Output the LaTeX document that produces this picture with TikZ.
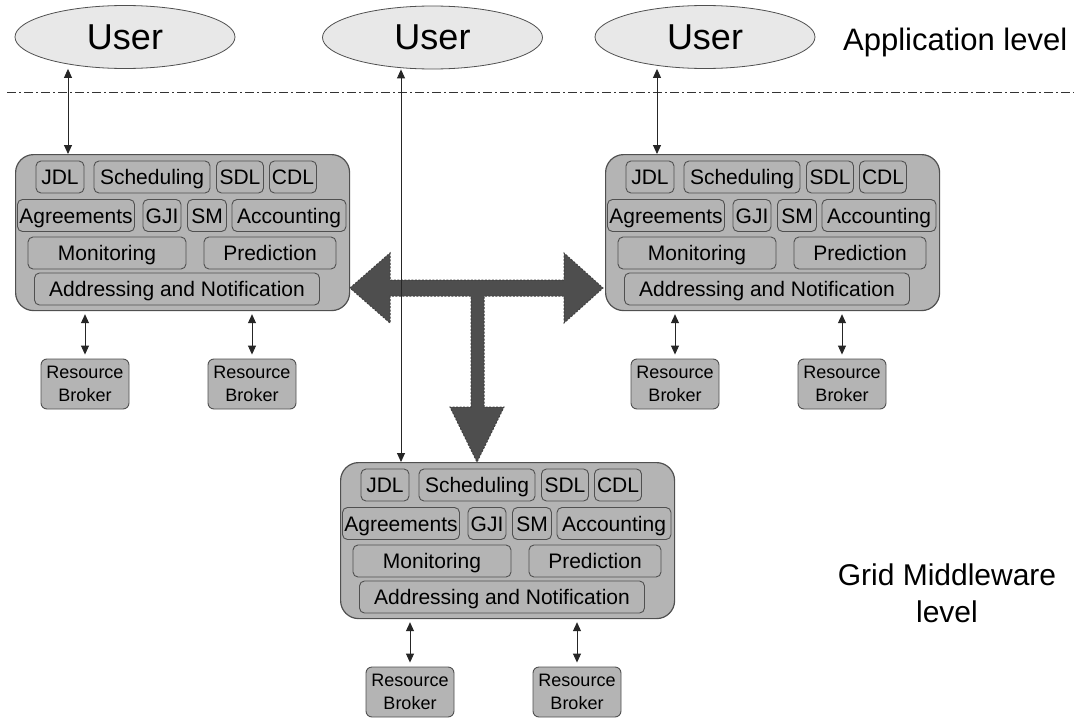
\documentclass[tikz,border=0pt]{standalone}
\usepackage{fontspec}
\setmainfont{Liberation Sans}
\usetikzlibrary{shapes.geometric,arrows.meta,calc}
\definecolor{blockgray}{RGB}{180,180,180}
\definecolor{ellgray}{RGB}{232,232,232}
\definecolor{edgegray}{RGB}{80,80,80}
\definecolor{tarrow}{RGB}{78,78,78}
\tikzset{
  blk/.style={draw=edgegray, line width=1.2pt, fill=blockgray, rounded corners=18pt,
    minimum width=334pt, minimum height=156pt, inner sep=0pt},
  ibox/.style={draw=edgegray, line width=0.9pt, fill=blockgray, rounded corners=5pt,
    minimum height=32pt, inner sep=0pt, text height=15pt, text depth=0pt,
    font=\fontsize{21}{25}\selectfont},
  rb/.style={draw=edgegray, line width=0.9pt, fill=blockgray, rounded corners=6pt,
    minimum width=88pt, minimum height=50pt, inner sep=0pt, align=center,
    font=\fontsize{18}{23}\selectfont},
  user/.style={ellipse, draw=edgegray, line width=0.8pt, fill=ellgray, minimum width=220pt,
    minimum height=63pt, inner sep=0pt, font=\fontsize{36}{40}\selectfont},
  biarrow/.style={{Triangle[length=9pt,width=8pt]}-{Triangle[length=9pt,width=8pt]},
    line width=0.9pt, draw=black!85, fill=black!85},
  lvl/.style={font=\fontsize{31}{37}\selectfont, inner sep=0pt, align=center},
}
\newcommand{\drawgridblock}[3]{%
  \begin{scope}[shift={(#2,#3)}]
    \node[blk, anchor=north west] (#1) at (0,0) {};
    \node[ibox, minimum width=48pt]  (#1-jdl)   at (45,23)   {JDL};
    \node[ibox, minimum width=116pt] (#1-sched) at (137,23)  {Scheduling};
    \node[ibox, minimum width=47pt]  (#1-sdl)   at (225,23)  {SDL};
    \node[ibox, minimum width=47pt]  (#1-cdl)   at (278,23)  {CDL};
    \node[ibox, minimum width=117pt] (#1-agr)   at (61,61.5) {Agreements};
    \node[ibox, minimum width=38pt]  (#1-gji)   at (147,61.5) {GJI};
    \node[ibox, minimum width=39pt]  (#1-sm)    at (192,61.5) {SM};
    \node[ibox, minimum width=114pt] (#1-acc)   at (274,61.5) {Accounting};
    \node[ibox, minimum width=158pt] (#1-mon)   at (92,99)   {Monitoring};
    \node[ibox, minimum width=132pt] (#1-pred)  at (255,99)  {Prediction};
    \node[ibox, minimum width=285pt] (#1-addr)  at (162,135) {Addressing and Notification};
    \node[rb] (#1-rb1) at (70,230)  {Resource\\Broker};
    \node[rb] (#1-rb2) at (237,230) {Resource\\Broker};
  \end{scope}
  \draw[biarrow, shorten <=3pt, shorten >=4pt] (#1-rb1.north |- #1.south) -- (#1-rb1.north);
  \draw[biarrow, shorten <=3pt, shorten >=4pt] (#1-rb2.north |- #1.south) -- (#1-rb2.north);
}
\begin{document}
\begin{tikzpicture}[x=1pt, y=-1pt]
  \fill[white] (0,0) rectangle (1074,720);
  \useasboundingbox (0,0) rectangle (1074,720);

  % users
  \node[user] (U1) at (125,37)   {User};
  \node[user] (U2) at (432.5,37.5) {User};
  \node[user] (U3) at (705,37)   {User};

  % level labels
  \node[lvl, anchor=base west] (applvl) at (843,50) {Application level};
  \node[lvl, font=\fontsize{30}{37}\selectfont] (gridlvl) at (947,593) {Grid Middleware\\level};

  % separator
  \coordinate (sepL) at (7,92);
  \coordinate (sepR) at (1074,92);
  \draw[draw=black!80, line width=0.8pt, dash pattern=on 9pt off 3pt on 2pt off 3pt] (sepL) -- (sepR);

  % blocks
  \drawgridblock{L}{15}{154}
  \drawgridblock{R}{605}{154}
  \drawgridblock{M}{340}{462}

  % big T arrow
  \draw[fill=tarrow, draw=black!75, line width=1pt, dash pattern=on 2pt off 1.5pt, line join=miter]
    (350,288) -- (390,253) -- (390,280) -- (564,280) -- (564,253) -- (603,288)
    -- (564,323) -- (564,296) -- (484,296) -- (484,407) -- (504,407) -- (477,462)
    -- (450,407) -- (471,407) -- (471,296) -- (390,296) -- (390,323) -- cycle;

  % user connectors
  \coordinate (Ltop) at ($(L.north west)+(53,0)$);
  \coordinate (Rtop) at ($(R.north west)+(52,0)$);
  \coordinate (Mtop) at ($(M.north west)+(61,0)$);
  \draw[biarrow] (U1.south -| Ltop) -- (Ltop);
  \draw[biarrow] (U3.south -| Rtop) -- (Rtop);
  \draw[biarrow] (U2.south -| Mtop) -- (Mtop);
\end{tikzpicture}
\end{document}
